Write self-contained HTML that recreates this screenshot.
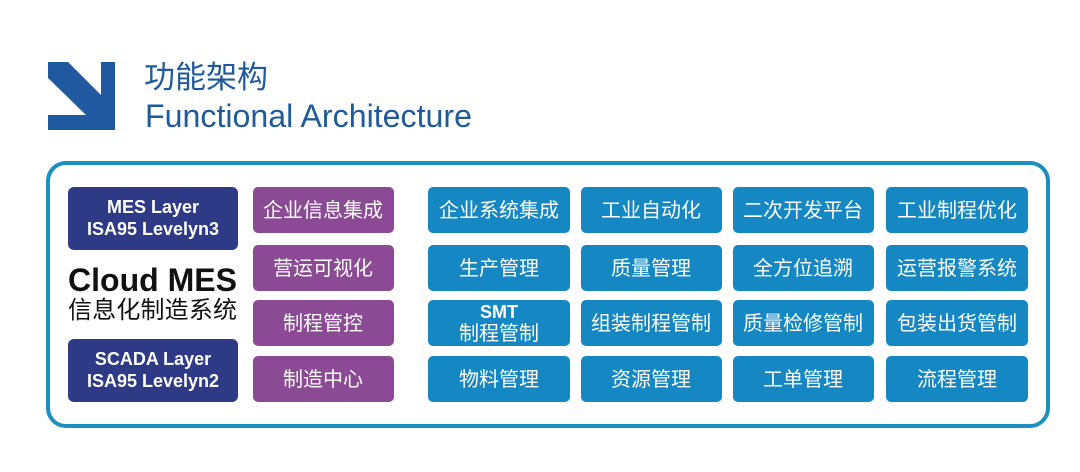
<!DOCTYPE html>
<html><head><meta charset="utf-8"><style>
html,body{margin:0;padding:0;background:#fff;}
svg{display:block;}
text{font-family:"Liberation Sans","Noto Sans CJK SC",sans-serif;}
</style></head><body>
<svg width="1080" height="472" viewBox="0 0 1080 472" xmlns="http://www.w3.org/2000/svg">
<rect width="1080" height="472" fill="#fff"/>
<polygon points="48,62 68,62 101,95 101,62 115,62 115,130 48,130 48,115 86,115 48,78" fill="#1f5aa0"/>
<text x="144" y="88" font-size="31" fill="#1f5a9a">功能架构</text>
<text x="145" y="127" font-size="32" fill="#1f5a9a" textLength="327" lengthAdjust="spacingAndGlyphs">Functional Architecture</text>
<rect x="48" y="163" width="1000" height="263" rx="18" fill="none" stroke="#1a8fc0" stroke-width="4"/>
<g fill="#2e3a86">
<rect x="68" y="187" width="170" height="63" rx="6"/>
<rect x="68" y="339" width="170" height="63" rx="6"/>
</g>
<g fill="#fff" font-size="18" font-weight="bold" text-anchor="middle">
<text x="153" y="213">MES Layer</text>
<text x="153" y="235">ISA95 Levelyn3</text>
<text x="153" y="365">SCADA Layer</text>
<text x="153" y="387">ISA95 Levelyn2</text>
</g>
<text x="68" y="291" font-size="32" font-weight="bold" fill="#111" textLength="169" lengthAdjust="spacingAndGlyphs">Cloud MES</text>
<text x="68" y="318" font-size="24" fill="#111" textLength="169">信息化制造系统</text>
<g fill="#8b4a94">
<rect x="253" y="187" width="141" height="46" rx="5"/>
<rect x="253" y="245" width="141" height="46" rx="5"/>
<rect x="253" y="300" width="141" height="46" rx="5"/>
<rect x="253" y="356" width="141" height="46" rx="5"/>
</g>
<g fill="#fff" font-size="20" text-anchor="middle">
<text x="323" y="217">企业信息集成</text>
<text x="323" y="275">营运可视化</text>
<text x="323" y="330">制程管控</text>
<text x="323" y="386">制造中心</text>
</g>
<g fill="#1588c3">
<rect x="428" y="187" width="142" height="46" rx="5"/><rect x="581" y="187" width="141" height="46" rx="5"/><rect x="733" y="187" width="141" height="46" rx="5"/><rect x="886" y="187" width="142" height="46" rx="5"/>
<rect x="428" y="245" width="142" height="46" rx="5"/><rect x="581" y="245" width="141" height="46" rx="5"/><rect x="733" y="245" width="141" height="46" rx="5"/><rect x="886" y="245" width="142" height="46" rx="5"/>
<rect x="428" y="300" width="142" height="46" rx="5"/><rect x="581" y="300" width="141" height="46" rx="5"/><rect x="733" y="300" width="141" height="46" rx="5"/><rect x="886" y="300" width="142" height="46" rx="5"/>
<rect x="428" y="356" width="142" height="46" rx="5"/><rect x="581" y="356" width="141" height="46" rx="5"/><rect x="733" y="356" width="141" height="46" rx="5"/><rect x="886" y="356" width="142" height="46" rx="5"/>
</g>
<g fill="#fff" font-size="20" text-anchor="middle">
<text x="499" y="217">企业系统集成</text><text x="651" y="217">工业自动化</text><text x="803" y="217">二次开发平台</text><text x="957" y="217">工业制程优化</text>
<text x="499" y="275">生产管理</text><text x="651" y="275">质量管理</text><text x="803" y="275">全方位追溯</text><text x="957" y="275">运营报警系统</text>
<text x="499" y="318" font-size="18" font-weight="bold">SMT</text><text x="499" y="340">制程管制</text>
<text x="651" y="330">组装制程管制</text><text x="803" y="330">质量检修管制</text><text x="957" y="330">包装出货管制</text>
<text x="499" y="386">物料管理</text><text x="651" y="386">资源管理</text><text x="803" y="386">工单管理</text><text x="957" y="386">流程管理</text>
</g>
</svg>
</body></html>
